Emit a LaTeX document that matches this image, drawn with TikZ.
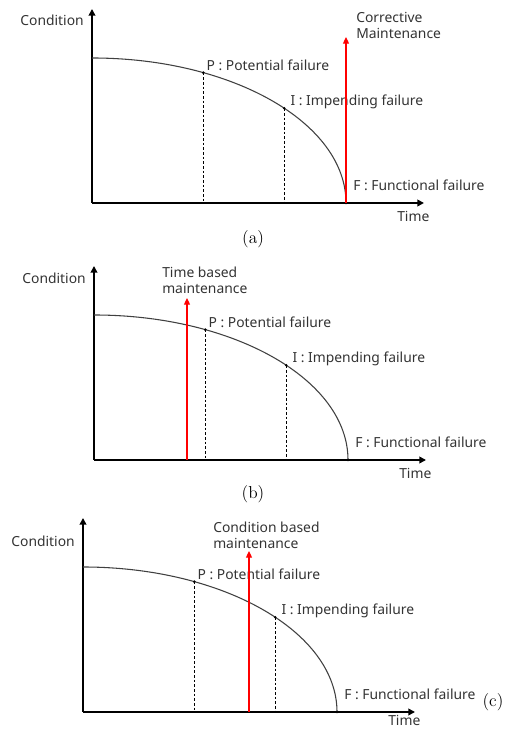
\documentclass[tikz,border=0pt]{standalone}
\usepackage{fontspec}
\newfontfamily\labelfont{Noto Sans}
\usetikzlibrary{arrows.meta}
\tikzset{
	axis/.style={line width=1.5pt, -{Triangle[length=5pt, width=5pt]}},
	curve/.style={line width=0.8pt, draw=black!75},
	drop/.style={line width=0.6pt, dash pattern=on 2pt off 1.5pt},
	maint/.style={line width=0.85pt, draw=red, -{Triangle[length=5pt, width=4.5pt, fill=red]}},
	note/.style={font=\labelfont\fontsize{10.4}{12}\selectfont, text=black!80,
		inner sep=0pt, align=left},
	caption/.style={font=\fontsize{13}{15}\selectfont, inner sep=0pt},
	dot/.style={fill=black}
}

\begin{document}
\begin{tikzpicture}[x=0.75pt, y=0.75pt]
	\useasboundingbox (0,0) rectangle (506,731);
	% the three panels share axes, curve and failure points
	\foreach \p/\ox/\oy/\cy/\ty in {a/92/528/183/-13, b/94/271/182/-13, c/83/19/171/-8}{
		\begin{scope}[shift={(\ox,\oy)}]
			\coordinate (O\p) at (0,0);
			\coordinate (Y\p) at (0,194);
			\coordinate (X\p) at (332,0);
			\coordinate (S\p) at (0,145);
			\coordinate (F\p) at (254,0);
			\coordinate (P\p) at (64:190.5pt and 108.75pt);
			\coordinate (I\p) at (40.8:190.5pt and 108.75pt);
			\draw[axis] (O\p) -- (Y\p);
			\draw[axis] (O\p) -- (X\p);
			\draw[curve] (S\p) arc[start angle=90, end angle=0,
				x radius=190.5pt, y radius=108.75pt];
			\draw[drop] (P\p) -- (P\p |- O\p);
			\draw[drop] (I\p) -- (I\p |- O\p);
			\foreach \q in {P\p, I\p, F\p}
				\fill[dot] (\q) circle (1.1pt);
			\node[note, anchor=east] (cond\p) at (-8,\cy) {Condition};
			\node[note, anchor=west] (time\p) at (305,\ty) {Time};
			\node[note, anchor=west] (pot\p) at ([shift={(3,7)}]P\p) {P : Potential failure};
			\node[note, anchor=west] (imp\p) at ([shift={(6,6)}]I\p) {I : Impending failure};
			\node[note, anchor=west] (fun\p) at ([shift={(7,18)}]F\p) {F : Functional failure};
		\end{scope}
	}
	% maintenance actions
	\coordinate (Ma) at ([shift={(0,166)}]Fa);
	\draw[maint] (Fa) -- (Ma);
	\node[note, anchor=west] (corr) at ([shift={(10,12)}]Ma) {Corrective\\Maintenance};
	\coordinate (Bb) at ([shift={(93,0)}]Ob);
	\coordinate (Mb) at ([shift={(93,162)}]Ob);
	\draw[maint] (Bb) -- (Mb);
	\node[note, anchor=west] (tbm) at ([shift={(-25,18)}]Mb) {Time based\\maintenance};
	\coordinate (Bc) at ([shift={(166,0)}]Oc);
	\coordinate (Mc) at ([shift={(166,161)}]Oc);
	\draw[maint] (Bc) -- (Mc);
	\node[note, anchor=west] (cbm) at ([shift={(-36,16)}]Mc) {Condition based\\maintenance};
	% captions
	\node[caption] (capa) at (253,492) {(a)};
	\node[caption] (capb) at (253,237) {(b)};
	\node[caption] (capc) at (493,29) {(c)};
\end{tikzpicture}
\end{document}
